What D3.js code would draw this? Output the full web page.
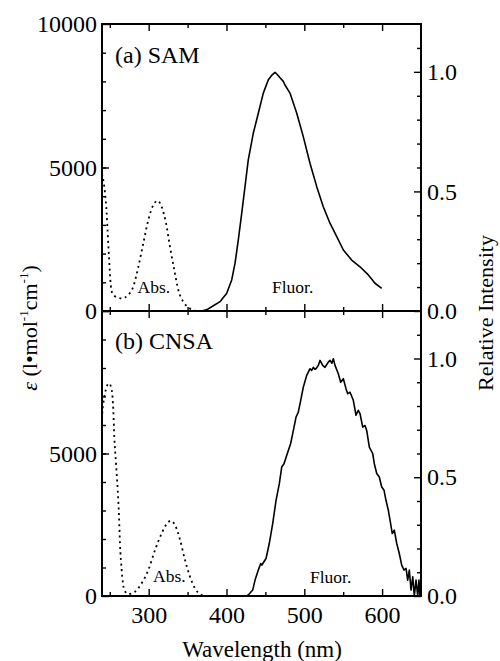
<!DOCTYPE html>
<html>
<head>
<meta charset="utf-8">
<script src="https://cdn.jsdelivr.net/npm/d3@7"></script>
<style>
  body { margin: 0; background: #fff; }
  svg { display: block; }
  text { font-family: "Liberation Serif", "Times New Roman", serif; fill: #000; }
</style>
</head>
<body>
<script>
// wavelength ticks
const xMajor = [300, 400, 500, 600];
const xMinor = [250, 350, 450, 550];

// left (epsilon) and right (relative intensity) ticks
const epsMajor = [0, 5000, 10000];
const epsMinor = d3.range(1000, 10000, 1000);
const relMajor = [0, 0.5, 1.0];
const relMinor = [0.1, 0.2, 0.3, 0.4, 0.6, 0.7, 0.8, 0.9, 1.1];
const epsLabelsA = [0, 5000, 10000];
const epsLabelsB = [0, 5000];
const relLabels = [0, 0.5, 1.0];

// (a) SAM absorption [nm, epsilon]
const samAbs = [[240, 4780], [241.7, 4560], [243.9, 4100], [246, 3400], [247.3, 2710], [249, 1890],
  [250.7, 1080], [253.2, 620], [258.9, 480], [265.3, 440], [273.8, 560], [280.2, 850], [286.7, 1540],
  [293.1, 2360], [299.5, 3170], [305.9, 3690], [311.6, 3840], [316.7, 3630], [322.3, 3060],
  [327.4, 2240], [332.9, 1430], [338.1, 730], [344.5, 320], [350.9, 130], [359.5, 10], [366, 0]];

// (a) SAM fluorescence [nm, relative intensity]
const samFluor = [[368.1, 0], [375, 0.006], [381, 0.018], [391.7, 0.039], [400.3, 0.074], [406.7, 0.13],
  [411, 0.2], [415.2, 0.297], [419.6, 0.409], [423.8, 0.52], [428, 0.632], [434.5, 0.744],
  [440.9, 0.827], [447.3, 0.911], [453.8, 0.967], [458, 0.985], [462.4, 0.998], [465, 0.99],
  [468.8, 0.975], [473, 0.96], [475.2, 0.945], [481.6, 0.911], [490.3, 0.827], [498.7, 0.729],
  [507.3, 0.618], [516, 0.52], [524.4, 0.436], [533, 0.367], [541.7, 0.311], [550.2, 0.255],
  [560.9, 0.213], [571.6, 0.185], [582.3, 0.151], [590.9, 0.116], [599.5, 0.095]];

// (b) CNSA absorption [nm, epsilon]
const cnsaAbs = [[240, 6000], [240.4, 6410], [241.7, 6760], [244.8, 7230], [249, 7460], [252.5, 7230],
  [254.5, 6530], [255.8, 5590], [258, 4660], [260.2, 3720], [261.9, 2780], [263.1, 1850],
  [265.3, 910], [268.7, 210], [273.8, 70], [282.4, 150], [291, 450], [299.5, 910], [308.1, 1610],
  [316.7, 2200], [323.2, 2530], [328.7, 2640], [333.8, 2490], [340.3, 1970], [346.7, 1260],
  [353.1, 680], [359.5, 270], [368.1, 35], [376.6, 0]];

// (b) CNSA fluorescence [nm, relative intensity]
const cnsaFluor = [[426, 0], [428, 0.004], [433.7, 0.025], [436.7, 0.067], [440.9, 0.109], [444, 0.137],
  [445.5, 0.13], [447.3, 0.14], [450.8, 0.158], [455, 0.221], [459.4, 0.305], [463.7, 0.403],
  [467.9, 0.473], [471, 0.543], [473.9, 0.557], [478.2, 0.6], [482.5, 0.642], [485.1, 0.684],
  [489.4, 0.753], [492.3, 0.774], [495.4, 0.824], [498.7, 0.879], [503.1, 0.929], [507.4, 0.957],
  [509.5, 0.95], [511.6, 0.963], [513.5, 0.955], [515.1, 0.957], [518, 0.971], [520.2, 0.992],
  [523.7, 0.971], [526.6, 0.963], [530.9, 0.985], [533.1, 0.992], [535.5, 0.98], [537.3, 0.999],
  [539.5, 0.971], [543.7, 0.936], [546.8, 0.9], [550.2, 0.915], [553.6, 0.873], [555.8, 0.852],
  [558.8, 0.858], [563, 0.824], [566.5, 0.761], [569.4, 0.782], [571.6, 0.768], [575.1, 0.711],
  [578, 0.718], [580.2, 0.697], [583.6, 0.627], [587.9, 0.6], [590, 0.557], [593.1, 0.516],
  [596.4, 0.501], [599.5, 0.459], [602.5, 0.445], [605, 0.403], [608, 0.361], [610.2, 0.319],
  [613.1, 0.263], [615.7, 0.277], [618.8, 0.221], [622.1, 0.179], [625.2, 0.13], [628.2, 0.109],
  [630.8, 0.116], [632.9, 0.067], [635, 0.109], [637.2, 0.025], [639.4, 0.081], [641.4, 0],
  [643.6, 0.067], [645.8, 0], [647.4, 0.067], [648.7, 0]];

const width = 500;
const height = 661;
const left = 102, right = 421;

const svg = d3.select('body').append('svg')
  .attr('width', width)
  .attr('height', height);

const x = d3.scaleLinear().domain([240, 650]).range([left, right]);

const panels = [
  { top: 24, bottom: 311, name: '(a) SAM', abs: samAbs, fluor: samFluor, epsLabels: epsLabelsA,
    showX: false, nameY: 63, absPos: [137.5, 293], fluorPos: [272, 293] },
  { top: 311, bottom: 596, name: '(b) CNSA', abs: cnsaAbs, fluor: cnsaFluor, epsLabels: epsLabelsB,
    showX: true, nameY: 349, absPos: [153, 582], fluorPos: [310, 583] }
];

function styleAxis(g, fontSize) {
  g.select('.domain').remove();
  g.selectAll('line').attr('stroke', '#000').attr('stroke-width', 1.4);
  g.selectAll('text').attr('font-size', fontSize);
  g.attr('font-family', null).attr('font-size', null);
}

panels.forEach(p => {
  const yEps = d3.scaleLinear().domain([0, 10000]).range([p.bottom, p.top]);
  const yRel = d3.scaleLinear().domain([0, 1.2]).range([p.bottom, p.top]);

  // major + minor ticks, all pointing inward
  svg.append('g').attr('transform', `translate(0,${p.bottom})`)
    .call(d3.axisBottom(x).tickValues(xMajor).tickSize(-7).tickPadding(10)
      .tickFormat(d => p.showX ? d : ''))
    .call(g => styleAxis(g, 24));
  svg.append('g').attr('transform', `translate(0,${p.bottom})`)
    .call(d3.axisBottom(x).tickValues(xMinor).tickSize(-4).tickFormat(''))
    .call(g => styleAxis(g, 24));
  svg.append('g').attr('transform', `translate(0,${p.top})`)
    .call(d3.axisTop(x).tickValues(xMajor).tickSize(-7).tickFormat(''))
    .call(g => styleAxis(g, 24));
  svg.append('g').attr('transform', `translate(0,${p.top})`)
    .call(d3.axisTop(x).tickValues(xMinor).tickSize(-4).tickFormat(''))
    .call(g => styleAxis(g, 24));

  svg.append('g').attr('transform', `translate(${left},0)`)
    .call(d3.axisLeft(yEps).tickValues(epsMajor).tickSize(-7).tickPadding(5)
      .tickFormat(d => p.epsLabels.includes(d) ? d : ''))
    .call(g => styleAxis(g, 24));
  svg.append('g').attr('transform', `translate(${left},0)`)
    .call(d3.axisLeft(yEps).tickValues(epsMinor).tickSize(-4).tickFormat(''))
    .call(g => styleAxis(g, 24));

  svg.append('g').attr('transform', `translate(${right},0)`)
    .call(d3.axisRight(yRel).tickValues(relMajor).tickSize(-7).tickPadding(6)
      .tickFormat(d => relLabels.includes(d) ? d3.format('.1f')(d) : ''))
    .call(g => styleAxis(g, 24));
  svg.append('g').attr('transform', `translate(${right},0)`)
    .call(d3.axisRight(yRel).tickValues(relMinor).tickSize(-4).tickFormat(''))
    .call(g => styleAxis(g, 24));

  // frame
  svg.append('rect')
    .attr('x', left).attr('y', p.top)
    .attr('width', right - left).attr('height', p.bottom - p.top)
    .attr('fill', 'none').attr('stroke', '#000').attr('stroke-width', 2);

  // absorption (dotted) on epsilon scale
  svg.append('path')
    .datum(p.abs)
    .attr('fill', 'none')
    .attr('stroke', '#000')
    .attr('stroke-width', 1.8)
    .attr('stroke-dasharray', '2,3.6')
    .attr('d', d3.line().x(d => x(d[0])).y(d => yEps(d[1])).curve(d3.curveMonotoneX));

  // fluorescence (solid) on relative scale
  svg.append('path')
    .datum(p.fluor)
    .attr('fill', 'none')
    .attr('stroke', '#000')
    .attr('stroke-width', 1.6)
    .attr('stroke-linejoin', 'round')
    .attr('d', d3.line().x(d => x(d[0])).y(d => yRel(d[1])));

  svg.append('text')
    .attr('x', 115).attr('y', p.nameY)
    .attr('font-size', 24)
    .text(p.name);
  svg.append('text')
    .attr('x', p.absPos[0]).attr('y', p.absPos[1])
    .attr('font-size', 17.5)
    .text('Abs.');
  svg.append('text')
    .attr('x', p.fluorPos[0]).attr('y', p.fluorPos[1])
    .attr('font-size', 17.5)
    .text('Fluor.');
});

// axis titles
svg.append('text')
  .attr('x', 262).attr('y', 657)
  .attr('text-anchor', 'middle')
  .attr('font-size', 23)
  .text('Wavelength (nm)');

const yTitle = svg.append('text')
  .attr('transform', 'translate(37,328) rotate(-90)')
  .attr('text-anchor', 'middle')
  .attr('font-size', 22);
yTitle.append('tspan').attr('font-style', 'italic').text('ε');
yTitle.append('tspan').text(' (l•mol');
yTitle.append('tspan').attr('font-size', 13).attr('dy', -9).text('-1');
yTitle.append('tspan').attr('dy', 9).text('cm');
yTitle.append('tspan').attr('font-size', 13).attr('dy', -9).text('-1');
yTitle.append('tspan').attr('dy', 9).text(')');

svg.append('text')
  .attr('transform', 'translate(493,313) rotate(-90)')
  .attr('text-anchor', 'middle')
  .attr('font-size', 22)
  .text('Relative Intensity');
</script>
</body>
</html>
